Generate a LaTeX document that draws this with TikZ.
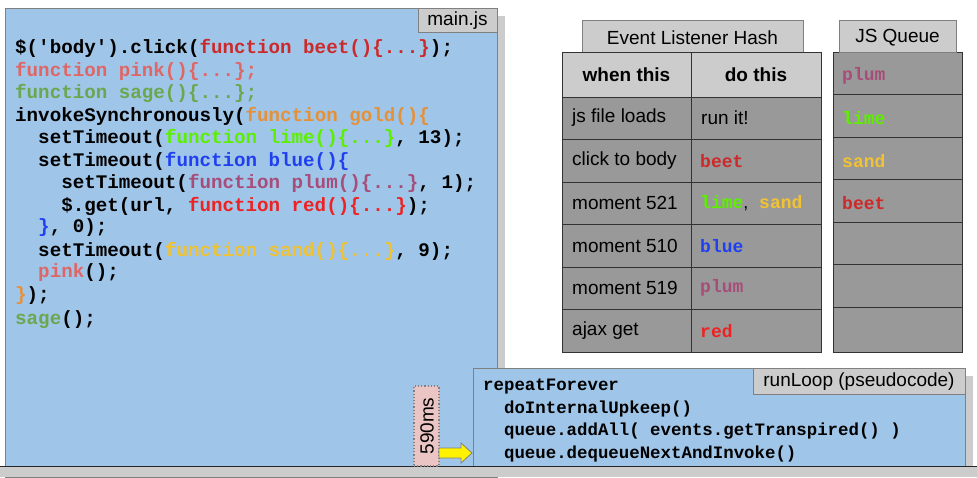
\documentclass[tikz,border=0pt]{standalone}
\usepackage{fontspec}
\setmainfont{Liberation Sans}
\setmonofont{Liberation Mono}
\begin{document}
\definecolor{bgblue}{HTML}{9FC5E8}
\definecolor{cbeet}{HTML}{CC2A2A}
\definecolor{cpink}{HTML}{E06666}
\definecolor{csage}{HTML}{6AA84F}
\definecolor{cgold}{HTML}{E69138}
\definecolor{clime}{HTML}{5CF000}
\definecolor{cblue}{HTML}{2040F0}
\definecolor{cplum}{HTML}{A64D79}
\definecolor{cred}{HTML}{EE2222}
\definecolor{csand}{HTML}{F1C232}
\definecolor{lgray}{HTML}{CCCCCC}
\definecolor{dgray}{HTML}{999999}
\begin{tikzpicture}[x=1pt,y=-1pt,
  code/.style={anchor=west,inner sep=0pt,font=\fontsize{19.2}{20}\ttfamily\bfseries},
  qcode/.style={anchor=west,inner sep=0pt,font=\fontsize{18}{18}\ttfamily\bfseries},
  rcode/.style={anchor=west,inner sep=0pt,font=\fontsize{17.4}{18}\ttfamily\bfseries},
  tab/.style={draw=gray,fill=lgray,line width=1pt},
  cell/.style={draw=black!80,fill=dgray,line width=0.8pt},
  lbl/.style={font=\fontsize{19}{20}\selectfont,inner sep=0pt},
  tl/.style={anchor=west,font=\fontsize{19}{20}\selectfont,inner sep=0pt}]
\useasboundingbox (0,0) rectangle (977,477);
% main box
\fill[lgray] (13,16) rectangle (505,477);
\filldraw[fill=bgblue,draw=gray,line width=1pt] (5,8) rectangle (497,477);
\draw[tab] (418,8) rectangle (497,32);
\node[lbl] (mainjs) at (457.5,21) {main.js};
\newcommand{\cl}[3]{\node[code] (#1) at (#2) {#3};}
\cl{l1}{15,48}{\$('body').click(\textcolor{cbeet}{function beet()\{...\}});}
\cl{l2}{15,71}{\textcolor{cpink}{function pink()\{...\};}}
\cl{l3}{15,93}{\textcolor{csage}{function sage()\{...\};}}
\cl{l4}{15,116}{invokeSynchronously(\textcolor{cgold}{function gold()\{}}
\cl{l5}{15,138}{\ \ setTimeout(\textcolor{clime}{function lime()\{...\}}, 13);}
\cl{l6}{15,161}{\ \ setTimeout(\textcolor{cblue}{function blue()\{}}
\cl{l7}{15,183}{\ \ \ \ setTimeout(\textcolor{cplum}{function plum()\{...\}}, 1);}
\cl{l8}{15,206}{\ \ \ \ \$.get(url, \textcolor{cred}{function red()\{...\}});}
\cl{l9}{15,228}{\ \ \textcolor{cblue}{\}}, 0);}
\cl{l10}{15,251}{\ \ setTimeout(\textcolor{csand}{function sand()\{...\}}, 9);}
\cl{l11}{15,273}{\ \ \textcolor{cpink}{pink}();}
\cl{l12}{15,296}{\textcolor{cgold}{\}});}
\cl{l13}{15,320}{\textcolor{csage}{sage}();}
% hash table
\draw[tab] (582,20) rectangle (803,52);
\node[lbl] (hashtab) at (692.5,38) {Event Listener Hash};
\draw[cell,fill=lgray] (562,52) rectangle (691,97);
\draw[cell,fill=lgray] (691,52) rectangle (821,97);
\node[lbl,font=\fontsize{19}{20}\selectfont\bfseries] (h1) at (626.5,75) {when this};
\node[lbl,font=\fontsize{19}{20}\selectfont\bfseries] (h2) at (756,75) {do this};
\foreach \i in {0,...,5}{
  \draw[cell] (562,97+42.5*\i) rectangle (691,139.5+42.5*\i);
  \draw[cell] (691,97+42.5*\i) rectangle (821,139.5+42.5*\i);
  \draw[cell] (833,52+42.5*\i) rectangle (962,94.5+42.5*\i);
}
\draw[cell] (833,307) rectangle (962,352);
\draw[tab] (839,20) rectangle (956,52);
\node[lbl] (qtab) at (897.5,38) {JS Queue};
\node[tl] (w1) at (572,118) {js file loads};
\node[tl] (w2) at (572,161) {click to body};
\node[tl] (w3) at (572,203) {moment 521};
\node[tl] (w4) at (572,246) {moment 510};
\node[tl] (w5) at (572,288) {moment 519};
\node[tl] (w6) at (572,331) {ajax get};
\node[tl] (d1) at (701,118) {run it!};
\node[qcode] (d2) at (700,161) {\textcolor{cbeet}{beet}};
\node[qcode] (d3) at (700,203) {\textcolor{clime}{lime}{\rmfamily\mdseries,} \textcolor{csand}{sand}};
\node[qcode] (d4) at (700,246) {\textcolor{cblue}{blue}};
\node[qcode] (d5) at (700,288) {\textcolor{cplum}{plum}};
\node[qcode] (d6) at (700,331) {\textcolor{cred}{red}};
\node[qcode] (q1) at (842,76) {\textcolor{cplum}{plum}};
\node[qcode] (q2) at (842,118) {\textcolor{clime}{lime}};
\node[qcode] (q3) at (842,161) {\textcolor{csand}{sand}};
\node[qcode] (q4) at (842,203) {\textcolor{cbeet}{beet}};
% bottom band
\fill[lgray] (0,466) rectangle (977,477);
% runloop
\fill[lgray] (481,376) rectangle (973,466);
\filldraw[fill=bgblue,draw=gray,line width=1pt] (473,368) rectangle (965,466);
\draw[tab] (753,368) rectangle (965,394);
\node[lbl] (rltab) at (859,382) {runLoop (pseudocode)};
\node[rcode] (r1) at (483,387) {repeatForever};
\node[rcode] (r2) at (483,409) {\ \ doInternalUpkeep()};
\node[rcode] (r3) at (483,431) {\ \ queue.addAll( events.getTranspired() )};
\node[rcode] (r4) at (483,454) {\ \ queue.dequeueNextAndInvoke()};
\draw[black!85,line width=1pt] (0,466) -- (977,466);
% 590ms
\node[draw=gray,dotted,line width=1.2pt,fill=pink!60!lgray,minimum width=25pt,minimum height=80pt,inner sep=0pt] (ms) at (426.5,426) {};
\node[lbl,rotate=90] (mst) at (427,426) {590ms};
\draw[draw=gray,fill=yellow,line width=0.8pt] (439,448) -- (461,448) -- (461,443) -- (472,453) -- (461,463) -- (461,458) -- (439,458) -- cycle;
\end{tikzpicture}
\end{document}
